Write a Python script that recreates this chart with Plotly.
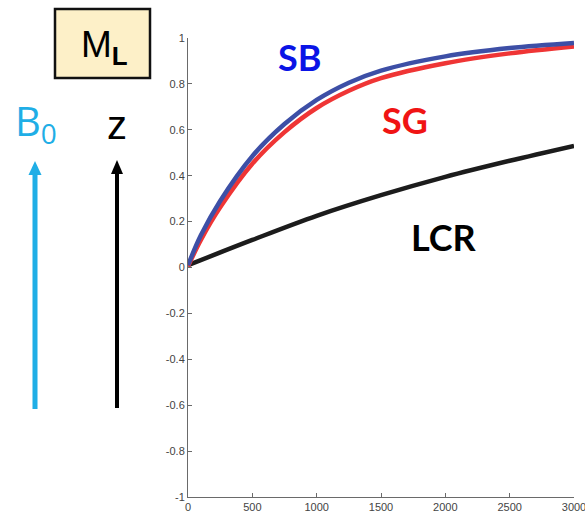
import plotly.graph_objects as go

# ---- data ----
t_tissue = [0, 100, 250, 500, 750, 1000, 1250, 1500, 2000, 2500, 3000]
sb_vals = [0.01, 0.14, 0.29, 0.485, 0.625, 0.73, 0.805, 0.858, 0.92, 0.956, 0.978]
sg_vals = [0.005, 0.12, 0.262, 0.452, 0.59, 0.695, 0.77, 0.825, 0.89, 0.933, 0.963]
t_lcr = [0, 500, 1000, 1500, 2000, 2500, 3000]
lcr_vals = [0.01, 0.12, 0.225, 0.315, 0.395, 0.465, 0.53]

x_ticks = [0, 500, 1000, 1500, 2000, 2500, 3000]
y_ticks = [-1, -0.8, -0.6, -0.4, -0.2, 0, 0.2, 0.4, 0.6, 0.8, 1]
y_tick_text = ["-1", "-0.8", "-0.6", "-0.4", "-0.2", "0", "0.2", "0.4", "0.6", "0.8", "1"]

W, H = 585, 515
ML, MR, MT, MB = 188, 11, 38, 18
PW, PH = W - ML - MR, H - MT - MB


def px(xp):
    return (xp - ML) / PW


def py(yp):
    return 1 - (yp - MT) / PH


fig = go.Figure()
fig.add_trace(go.Scatter(x=t_lcr, y=lcr_vals, mode="lines",
                         line=dict(color="#1c1c1c", width=4.5, shape="spline"),
                         hoverinfo="skip"))
fig.add_trace(go.Scatter(x=t_tissue, y=sg_vals, mode="lines",
                         line=dict(color="#ef3535", width=4.5, shape="spline"),
                         hoverinfo="skip"))
fig.add_trace(go.Scatter(x=t_tissue, y=sb_vals, mode="lines",
                         line=dict(color="#3d4fa6", width=4.5, shape="spline"),
                         hoverinfo="skip"))

axis_common = dict(showgrid=False, zeroline=False, showline=True, linecolor="#6a6a6a",
                   linewidth=1, ticks="inside", ticklen=4, tickcolor="#6a6a6a",
                   automargin=False, ticklabeloverflow="allow",
                   tickfont=dict(family="Liberation Sans", size=11, color="#444444"))

fig.update_xaxes(range=[0, 3000], tickvals=x_ticks, **axis_common)
fig.update_yaxes(range=[-1, 1], tickvals=y_ticks, ticktext=y_tick_text, **axis_common)

annotations = []


def label(text, xp, yp, family, size, color):
    annotations.append(dict(text=text, xref="paper", yref="paper", x=px(xp), y=py(yp),
                            xanchor="center", yanchor="middle", showarrow=False,
                            font=dict(family=family, size=size, color=color)))


label("<b>SB</b>", 299, 57, "Lato", 36, "#0a14e6")
label("<b>SG</b>", 405, 120, "Lato", 36, "#f01414")
label("<b>LCR</b>", 444, 237, "Lato", 36, "#000000")
label("M<sub><b>L</b></sub>", 104, 47, "Liberation Sans", 37, "#000000")
label("B<sub>0</sub>", 36, 122, "Open Sans", 40, "#1faee6")
label("z", 117, 125, "Liberation Sans", 40, "#000000")

shapes = [dict(type="rect", xref="paper", yref="paper", x0=px(55), x1=px(150),
               y0=py(78), y1=py(9), fillcolor="#fdf0c8",
               line=dict(color="#111111", width=2.5), layer="below")]


def arrow(xc, y_tip, y_tail, shaft_w, head_w, head_h, color):
    shapes.append(dict(type="line", xref="paper", yref="paper",
                       x0=px(xc), x1=px(xc), y0=py(y_tail), y1=py(y_tip + head_h - 1),
                       line=dict(color=color, width=shaft_w)))
    path = "M {:.5f},{:.5f} L {:.5f},{:.5f} L {:.5f},{:.5f} Z".format(
        px(xc), py(y_tip), px(xc - head_w / 2), py(y_tip + head_h),
        px(xc + head_w / 2), py(y_tip + head_h))
    shapes.append(dict(type="path", xref="paper", yref="paper", path=path,
                       fillcolor=color, line=dict(color=color, width=0)))


arrow(35, 161, 409, 5, 13, 14, "#1faee6")
arrow(117, 160, 408, 4, 12, 14, "#000000")

fig.update_layout(width=W, height=H, margin=dict(l=ML, r=MR, t=MT, b=MB),
                  paper_bgcolor="white", plot_bgcolor="white", showlegend=False,
                  annotations=annotations, shapes=shapes)

fig.write_html("out.html")
